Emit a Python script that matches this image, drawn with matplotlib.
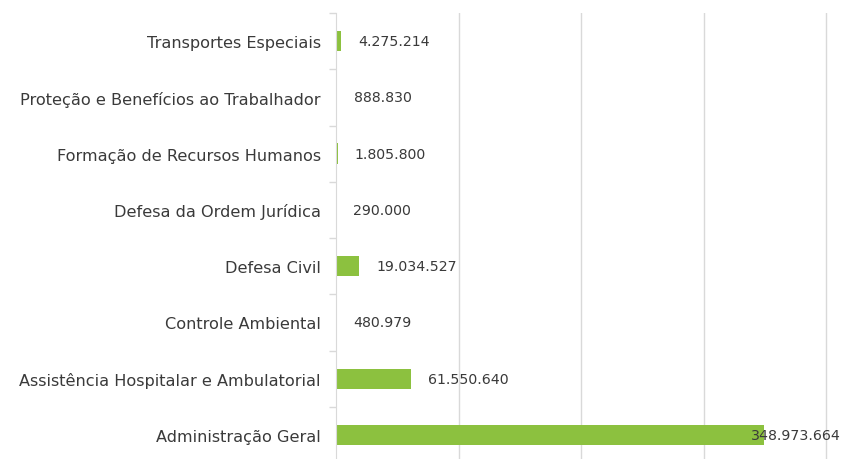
import numpy as np
import matplotlib.pyplot as plt

# categorias (de baixo para cima)
categorias = ['Administração Geral', 'Assistência Hospitalar e Ambulatorial',
              'Controle Ambiental', 'Defesa Civil', 'Defesa da Ordem Jurídica',
              'Formação de Recursos Humanos', 'Proteção e Benefícios ao Trabalhador',
              'Transportes Especiais']
valores = [348973664, 61550640, 480979, 19034527, 290000, 1805800, 888830, 4275214]
rotulos = ['348.973.664', '61.550.640', '480.979', '19.034.527', '290.000',
           '1.805.800', '888.830', '4.275.214']

verde = '#8cc13f'
texto = '#3a3a3a'
cinza = '#d9d9d9'

fig = plt.figure(figsize=(8.41, 4.60), dpi=100)
ax = fig.add_axes([336/841, -4/460, 505/841, 450/460])

y = np.arange(len(categorias))
ax.barh(y, valores, height=0.36, color=verde, zorder=2)

ax.set_xlim(0, 412e6)
ax.set_ylim(-0.5, len(categorias) - 0.5)
ax.set_xticks([100e6, 200e6, 300e6, 400e6])
ax.xaxis.grid(True, color=cinza, linewidth=1, zorder=0)
ax.tick_params(axis='x', length=0, labelbottom=False)

ax.set_yticks(y)
ax.set_yticklabels(categorias, fontsize=11.6, color=texto)
ax.tick_params(axis='y', which='major', length=0, pad=11)
ax.set_yticks(np.arange(-0.5, len(categorias), 1), minor=True)
ax.tick_params(axis='y', which='minor', length=5, color=cinza, width=1)

for s in ['top', 'right', 'bottom']:
    ax.spines[s].set_visible(False)
ax.spines['left'].set_color(cinza)

# rótulos dos valores
for i, (v, r) in enumerate(zip(valores, rotulos)):
    if v == max(valores):
        ax.text(412e6, i, r, ha='right', va='center', fontsize=10.2, color=texto, zorder=3)
    else:
        ax.annotate(r, (v, i), xytext=(12, 0), textcoords='offset points',
                    ha='left', va='center', fontsize=10.2, color=texto)

fig.savefig('out.png', dpi=100)
